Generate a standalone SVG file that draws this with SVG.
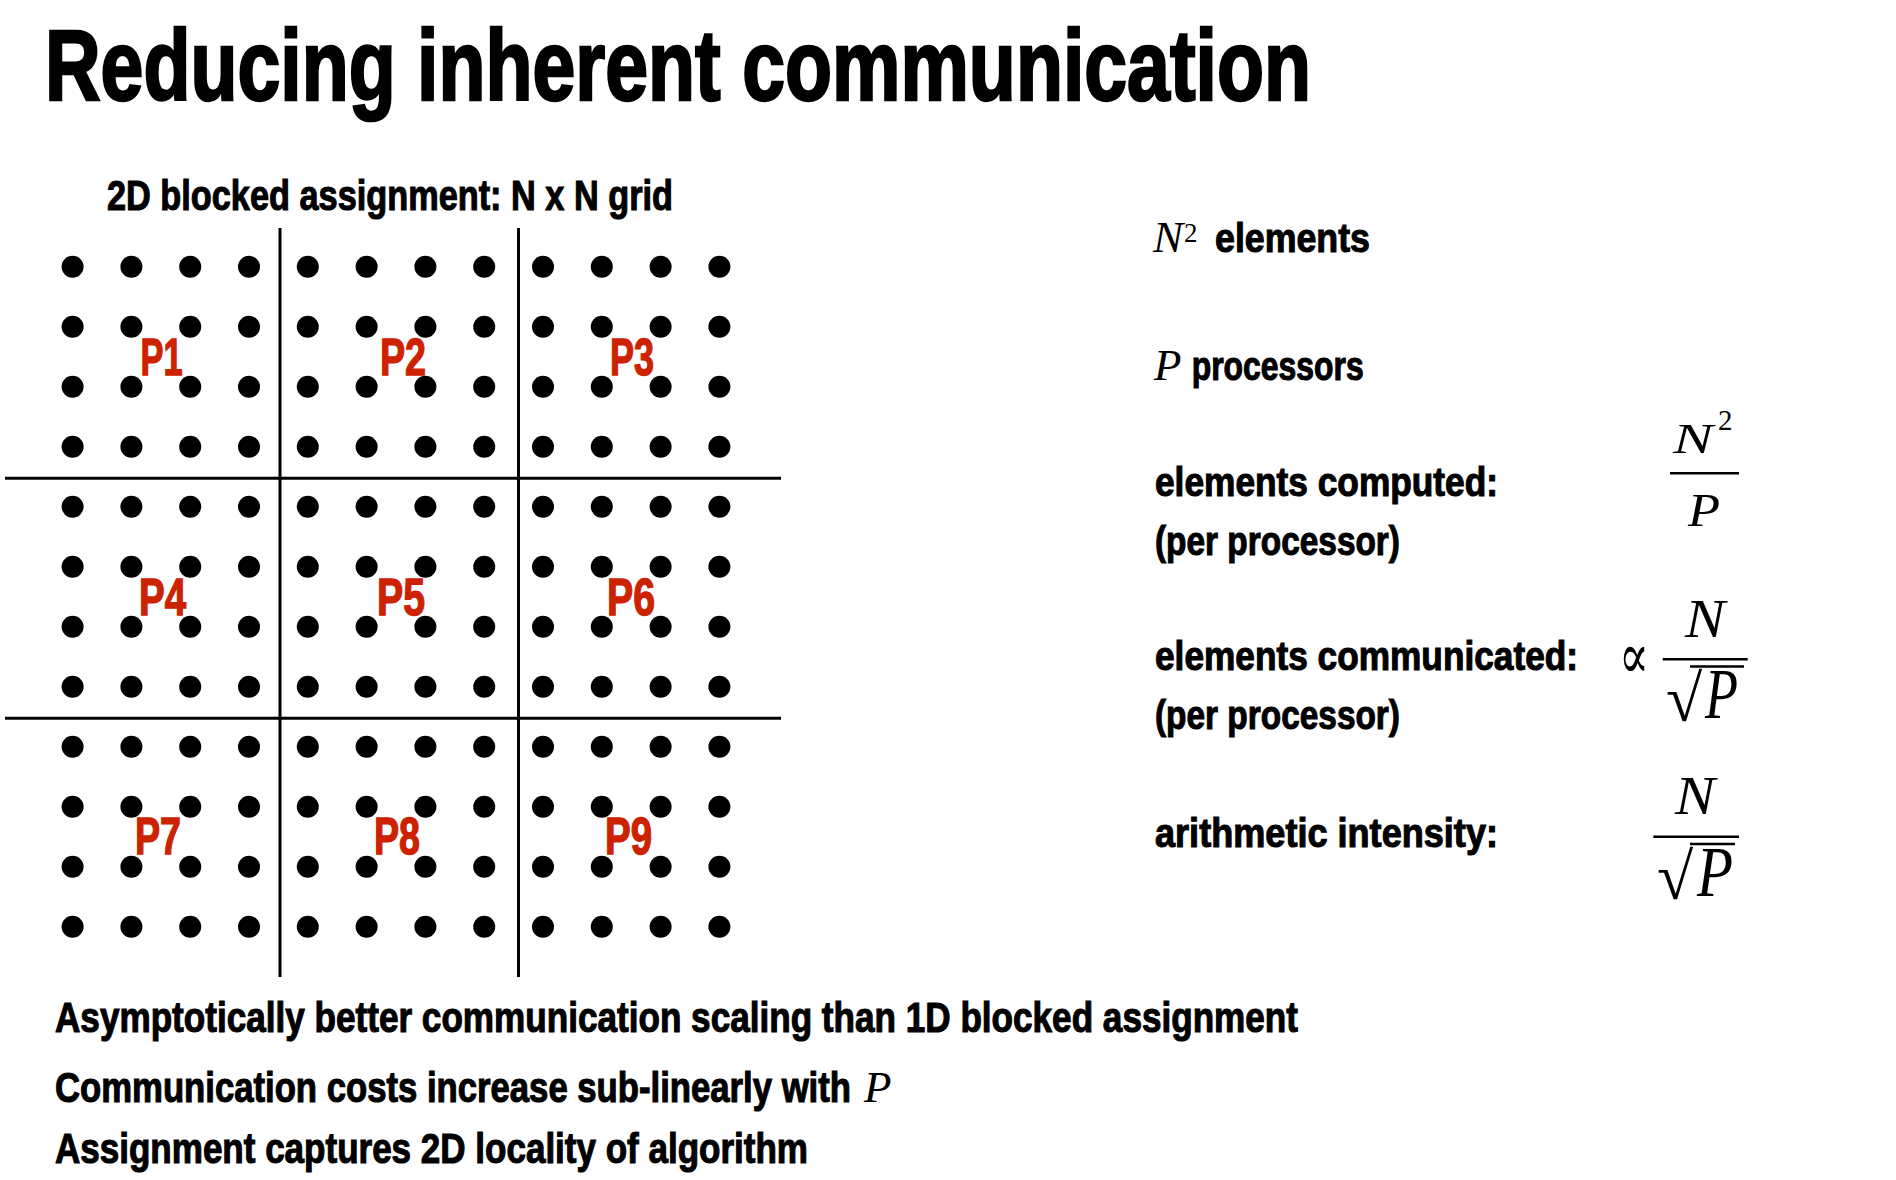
<svg xmlns="http://www.w3.org/2000/svg" width="1896" height="1180" viewBox="0 0 1896 1180">
<style>
  .b { font-family: "Liberation Sans Narrow", "Liberation Sans", Arial, sans-serif; font-weight: bold; fill: #000; stroke: #000; stroke-width: 1.1px; }
  .t { stroke-width: 2.6px; }
  .lbl { font-family: "Liberation Sans Narrow", "Liberation Sans", Arial, sans-serif; font-weight: bold; fill: #CC2200; stroke: #CC2200; stroke-width: 1.4px; font-size: 52px; }
  .m { font-family: "Liberation Serif", "Times New Roman", "DejaVu Serif", serif; font-style: italic; fill: #000; }
  .mu { font-family: "Liberation Serif", "Times New Roman", "DejaVu Serif", serif; font-style: normal; fill: #000; }
  .ln { stroke: #000; stroke-width: 3; fill: none; }
  .bar { stroke: #000; stroke-width: 2.6; fill: none; }
  .dot { fill: #000; }
</style>
<defs>
  <g id="blk">
    <circle class="dot" cx="0" cy="0" r="11"/><circle class="dot" cx="58.8" cy="0" r="11"/><circle class="dot" cx="117.6" cy="0" r="11"/><circle class="dot" cx="176.4" cy="0" r="11"/>
    <circle class="dot" cx="0" cy="60" r="11"/><circle class="dot" cx="58.8" cy="60" r="11"/><circle class="dot" cx="117.6" cy="60" r="11"/><circle class="dot" cx="176.4" cy="60" r="11"/>
    <circle class="dot" cx="0" cy="120" r="11"/><circle class="dot" cx="58.8" cy="120" r="11"/><circle class="dot" cx="117.6" cy="120" r="11"/><circle class="dot" cx="176.4" cy="120" r="11"/>
    <circle class="dot" cx="0" cy="180" r="11"/><circle class="dot" cx="58.8" cy="180" r="11"/><circle class="dot" cx="117.6" cy="180" r="11"/><circle class="dot" cx="176.4" cy="180" r="11"/>
  </g>
</defs>
<rect x="0" y="0" width="1896" height="1180" fill="#fff"/>

<text id="title" class="b t" x="45" y="100" font-size="100" textLength="1266" lengthAdjust="spacingAndGlyphs">Reducing inherent communication</text>
<text id="subtitle" class="b" x="107" y="210" font-size="42" textLength="566" lengthAdjust="spacingAndGlyphs">2D blocked assignment: N x N grid</text>

<g id="grid-lines">
  <line class="ln" x1="280" y1="228" x2="280" y2="977"/>
  <line class="ln" x1="518.5" y1="228" x2="518.5" y2="977"/>
  <line class="ln" x1="5" y1="478.3" x2="781" y2="478.3"/>
  <line class="ln" x1="5" y1="718.3" x2="781" y2="718.3"/>
</g>

<g id="p1"><use href="#blk" x="72.6" y="266.7"/><text class="lbl" x="140.5" y="375" textLength="42" lengthAdjust="spacingAndGlyphs">P1</text></g>
<g id="p2"><use href="#blk" x="307.8" y="266.7"/><text class="lbl" x="380" y="375" textLength="46" lengthAdjust="spacingAndGlyphs">P2</text></g>
<g id="p3"><use href="#blk" x="543" y="266.7"/><text class="lbl" x="610" y="375" textLength="44" lengthAdjust="spacingAndGlyphs">P3</text></g>
<g id="p4"><use href="#blk" x="72.6" y="506.7"/><text class="lbl" x="139" y="615" textLength="47" lengthAdjust="spacingAndGlyphs">P4</text></g>
<g id="p5"><use href="#blk" x="307.8" y="506.7"/><text class="lbl" x="377" y="615" textLength="48" lengthAdjust="spacingAndGlyphs">P5</text></g>
<g id="p6"><use href="#blk" x="543" y="506.7"/><text class="lbl" x="607" y="615" textLength="48" lengthAdjust="spacingAndGlyphs">P6</text></g>
<g id="p7"><use href="#blk" x="72.6" y="746.7"/><text class="lbl" x="135" y="854" textLength="46" lengthAdjust="spacingAndGlyphs">P7</text></g>
<g id="p8"><use href="#blk" x="307.8" y="746.7"/><text class="lbl" x="374" y="854" textLength="46" lengthAdjust="spacingAndGlyphs">P8</text></g>
<g id="p9"><use href="#blk" x="543" y="746.7"/><text class="lbl" x="605" y="854" textLength="47" lengthAdjust="spacingAndGlyphs">P9</text></g>

<g id="facts">
  <text class="m" x="1153" y="251.7" font-size="45">N</text>
  <text class="mu" x="1184" y="242" font-size="27">2</text>
  <text class="b" x="1215" y="251.7" font-size="41" textLength="155" lengthAdjust="spacingAndGlyphs">elements</text>

  <text class="m" x="1154" y="380" font-size="45">P</text>
  <text class="b" x="1191.7" y="380" font-size="41" textLength="172" lengthAdjust="spacingAndGlyphs">processors</text>

  <text class="b" x="1155" y="496" font-size="41" textLength="343" lengthAdjust="spacingAndGlyphs">elements computed:</text>
  <text class="b" x="1155" y="555" font-size="41" textLength="245" lengthAdjust="spacingAndGlyphs">(per processor)</text>

  <text class="b" x="1155" y="670" font-size="41" textLength="423" lengthAdjust="spacingAndGlyphs">elements communicated:</text>
  <text class="b" x="1155" y="729" font-size="41" textLength="245" lengthAdjust="spacingAndGlyphs">(per processor)</text>

  <text class="b" x="1155" y="846.7" font-size="41" textLength="343" lengthAdjust="spacingAndGlyphs">arithmetic intensity:</text>
</g>

<g id="formula-computed">
  <text class="m" x="1673" y="453.3" font-size="42" textLength="40" lengthAdjust="spacingAndGlyphs">N</text>
  <text class="mu" x="1718" y="430" font-size="29">2</text>
  <line class="bar" x1="1670" y1="473.3" x2="1739" y2="473.3"/>
  <text class="m" x="1688" y="526" font-size="47" textLength="32" lengthAdjust="spacingAndGlyphs">P</text>
</g>

<g id="formula-communicated">
  <text class="mu" x="1619" y="678" font-size="64" textLength="30" lengthAdjust="spacingAndGlyphs">∝</text>
  <text class="m" x="1685" y="637" font-size="54" textLength="40" lengthAdjust="spacingAndGlyphs">N</text>
  <line class="bar" x1="1662.7" y1="659.3" x2="1747.7" y2="659.3"/>
  <text class="mu" x="1666" y="721" font-size="66">√</text>
  <line class="bar" x1="1690" y1="666.5" x2="1744" y2="666.5"/>
  <text class="m" x="1705" y="718.3" font-size="71" textLength="33" lengthAdjust="spacingAndGlyphs">P</text>
</g>

<g id="formula-intensity">
  <text class="m" x="1675" y="814" font-size="54" textLength="40" lengthAdjust="spacingAndGlyphs">N</text>
  <line class="bar" x1="1653.3" y1="836.7" x2="1739" y2="836.7"/>
  <text class="mu" x="1657" y="899" font-size="66">√</text>
  <line class="bar" x1="1690" y1="844" x2="1735" y2="844"/>
  <text class="m" x="1697" y="896" font-size="71" textLength="36" lengthAdjust="spacingAndGlyphs">P</text>
</g>

<g id="notes">
  <text class="b" x="55" y="1031.7" font-size="42" textLength="1243" lengthAdjust="spacingAndGlyphs">Asymptotically better communication scaling than 1D blocked assignment</text>
  <text class="b" x="55" y="1101.7" font-size="42" textLength="796" lengthAdjust="spacingAndGlyphs">Communication costs increase sub-linearly with</text>
  <text class="m" x="864" y="1101.7" font-size="45">P</text>
  <text class="b" x="55" y="1163" font-size="42" textLength="753" lengthAdjust="spacingAndGlyphs">Assignment captures 2D locality of algorithm</text>
</g>
</svg>
